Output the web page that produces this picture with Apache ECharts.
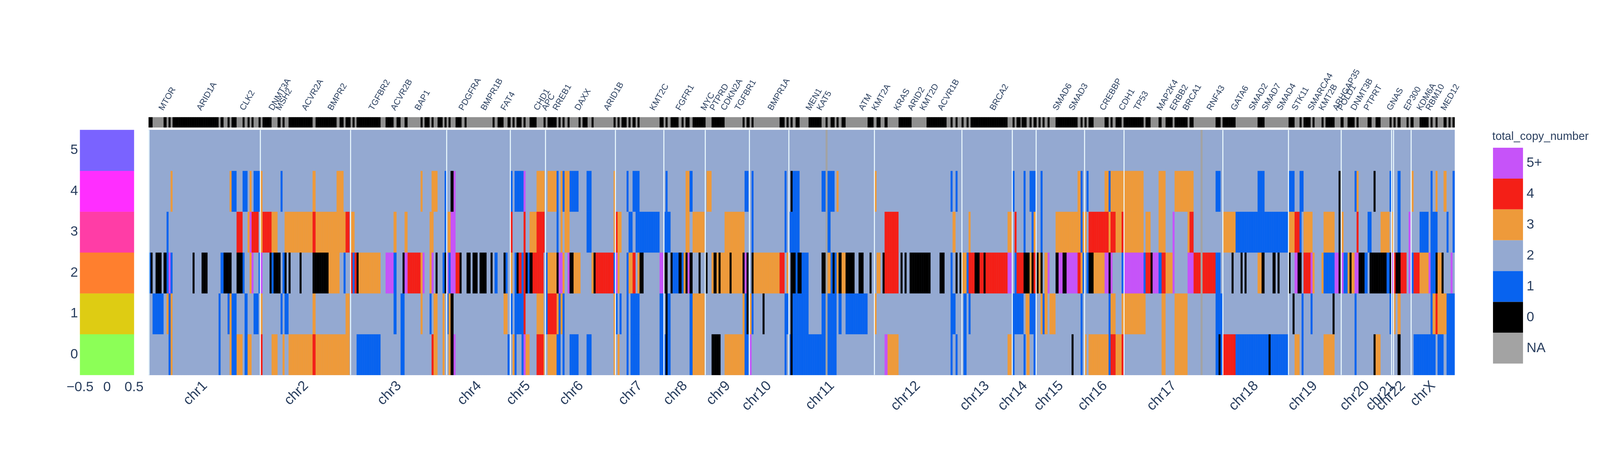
<!DOCTYPE html>
<html><head><meta charset="utf-8">
<style>html,body{margin:0;padding:0;background:#fff;overflow:hidden}#c{width:100vw;height:1200px}</style>
<script src="https://cdn.jsdelivr.net/npm/echarts@6/dist/echarts.min.js"></script>
</head><body><div id="c"></div>
<script>
const columnCount = 1306;
const panelRows = ['0','1','2','3','4','5'];
const panelColorValues = [0,1,2,3,4,5];
const chrNames = ['chr1','chr2','chr3','chr4','chr5','chr6','chr7','chr8','chr9','chr10','chr11','chr12','chr13','chr14','chr15','chr16','chr17','chr18','chr19','chr20','chr21','chr22','chrX'];
const chrTickCols = [56,157,250,330,379,432,491,536,579,620,683,769,838,876,912,956,1025,1107,1166,1218,1244,1254,1284];
const chrSeparators = [0.2,111.7,201.7,298.1,361.7,396.7,466.8,515.05,556.7,600.5,640,725.5,813.1,863.6,887.5,936,975.3,1074,1139.7,1192.3,1242.8,1244.7,1262.5];
const geneNames = ['MTOR','ARID1A','CLK2','DNMT3A','MSH2','ACVR2A','BMPR2','TGFBR2','ACVR2B','BAP1','PDGFRA','BMPR1B','FAT4','CHD1','APC','RREB1','DAXX','ARID1B','KMT2C','FGFR1','MYC','PTPRD','CDKN2A','TGFBR1','BMPR1A','MEN1','KAT5','ATM','KMT2A','KRAS','ARID2','KMT2D','ACVR1B','BRCA2','SMAD6','SMAD3','CREBBP','CDH1','TP53','MAP2K4','ERBB2','BRCA1','RNF43','GATA6','SMAD2','SMAD7','SMAD4','STK11','SMARCA4','KMT2B','ARHGAP35','POLD1','DNMT3B','PTPRT','GNAS','EP300','KDM6A','RBM10','MED12'];
const geneCols = [12,50,93,122,129,155,181,222,244,268,312,334,354,387,395,406,428,457,503,529,554,563,574,588,621,659,670,712,725,747,761,773,791,843,906,922,953,972,987,1010,1023,1036,1060,1084,1102,1115,1130,1145,1161,1172,1186,1191,1204,1217,1240,1257,1270,1279,1294];
const naCols = [677,678,1052,1053];
const stripBlackRuns = [[0,4],[15,18],[20,22],[24,70],[72,75],[79,81],[83,88],[94,96],[99,101],[103,105],[110,112],[114,123],[129,132],[134,136],[140,164],[167,188],[191,195],[197,202],[204,206],[208,232],[237,245],[248,252],[256,259],[272,274],[276,281],[283,285],[289,294],[296,298],[300,302],[307,313],[316,318],[344,346],[349,355],[359,362],[364,366],[368,373],[375,377],[381,388],[395,397],[399,408],[410,412],[414,416],[419,421],[430,432],[434,439],[443,445],[465,467],[469,471],[473,478],[480,482],[484,487],[489,491],[511,515],[517,519],[522,530],[533,535],[537,541],[544,557],[563,576],[594,596],[598,601],[603,605],[631,636],[638,640],[642,644],[647,651],[660,673],[677,679],[682,686],[688,690],[693,697],[719,725],[728,732],[736,739],[750,763],[778,798],[802,804],[807,809],[813,815],[818,820],[822,859],[864,866],[868,872],[873,878],[881,883],[885,888],[890,892],[894,896],[899,901],[907,929],[932,934],[936,938],[940,945],[956,960],[962,964],[967,973],[975,995],[997,1002],[1010,1013],[1017,1024],[1026,1039],[1041,1045],[1067,1072],[1074,1087],[1109,1116],[1140,1146],[1151,1153],[1155,1162],[1164,1166],[1173,1175],[1177,1186],[1192,1195],[1199,1206],[1208,1210],[1219,1223],[1227,1232],[1241,1243],[1245,1247],[1249,1252],[1258,1260],[1262,1265],[1271,1280],[1282,1284],[1287,1289],[1295,1298],[1300,1302],[1304,1306]];
const row5Runs = [];
const row4Runs = [[22,24,3],[81,83,3],[83,88,1],[94,99,1],[101,103,3],[105,112,1],[112,114,3],[132,134,1],[164,167,3],[188,195,3],
[272,274,3],[283,289,3],[296,298,1],[302,305,0],[305,307,5],[362,364,1],[366,375,1],[375,377,5],[388,396,3],[399,408,3],[408,410,1],[412,414,3],[414,416,1],[416,421,3],[421,430,1],[438,443,1],
[465,467,3],[478,480,1],[484,491,1],[517,519,1],[537,541,3],[541,544,1],[558,563,3],[596,600,1],[603,605,1],[636,638,1],[642,644,0],[644,651,1],
[673,677,1],[679,686,1],[688,690,3],[726,728,3],[802,804,1],[807,809,1],[864,866,1],[875,877,1],
[881,887,1],[892,894,1],[929,932,3],[932,934,1],[938,940,1],[956,960,3],[960,962,1],[962,995,3],[1010,1017,3],[1026,1045,3],[1067,1072,1],
[1109,1116,1],[1140,1146,1],[1151,1155,1],[1190,1192,0],[1206,1208,1],[1208,1210,3],[1225,1227,0],[1241,1243,1],[1249,1252,1],[1263,1265,3],[1282,1284,1],[1287,1289,3],[1295,1298,3],[1304,1306,1]];
const row3Runs = [[18,20,1],[88,94,4],[99,101,3],[101,103,5],[103,110,4],[112,114,3],[114,123,4],[123,129,3],[136,164,3],[164,167,4],[167,197,3],[197,201,4],[202,206,3],
[245,248,3],[256,259,3],[281,285,3],[296,298,1],[299,302,3],[302,307,5],[362,364,4],[375,377,4],[381,388,3],[388,396,4],[408,410,1],[412,414,3],[416,421,3],[438,443,1],
[465,467,3],[467,469,4],[469,473,3],[480,484,1],[487,511,1],[516,522,1],[537,541,3],[544,556,3],[576,596,3],[603,605,1],[636,638,1],[641,651,1],
[679,682,1],[736,750,4],[804,807,3],[820,822,3],[859,863,3],[866,868,4],[875,877,1],
[883,885,1],[885,887,3],[892,894,1],[907,932,3],[932,934,1],[934,938,3],[940,960,4],[960,962,3],[962,967,4],[967,973,3],[973,975,4],[975,995,3],[997,1002,3],[1010,1017,3],[1024,1026,5],[1039,1041,3],[1041,1045,4],[1074,1087,3],[1087,1098,1],
[1098,1140,1],[1140,1146,3],[1146,1151,4],[1151,1153,1],[1155,1164,3],[1175,1186,3],[1190,1192,0],[1193,1195,3],[1208,1210,4],[1219,1223,1],[1232,1241,3],[1243,1245,3],[1249,1252,1],[1260,1262,5],[1271,1280,1],[1282,1289,1],[1298,1300,1],[1304,1306,1]];
const row2Runs = [[0,2,1],[2,4,0],[7,13,0],[15,18,0],[18,20,1],[20,22,5],[22,24,1],[44,46,0],[53,59,0],[72,75,1],[75,83,0],[88,94,0],[94,96,1],[101,103,3],[103,105,5],[110,112,1],[112,114,5],[121,123,0],[123,125,1],[125,132,0],[134,136,1],[136,138,0],[140,142,0],[151,153,0],[164,180,0],[180,191,3],[195,197,1],[202,204,4],[204,206,1],[206,208,4],[208,210,0],[210,232,3],
[237,245,5],[245,248,1],[254,256,0],[256,259,5],[259,272,4],[272,274,3],[274,276,5],[281,283,3],[283,285,5],[287,289,0],[294,296,1],[296,298,0],[299,300,5],[300,302,1],[302,307,5],[307,311,4],[311,313,0],[318,322,0],[324,329,0],[331,338,0],[342,344,0],[346,349,1],[355,357,0],[357,359,1],[362,364,3],[366,368,1],[368,370,0],[370,373,4],[373,375,1],[375,377,4],[377,379,0],[379,381,1],[381,384,0],[384,395,4],[397,399,1],[399,408,3],[408,410,0],[410,414,5],[414,416,3],[419,421,5],[421,425,0],[425,432,3],
[443,445,3],[445,447,0],[447,465,4],[465,467,1],[467,469,5],[469,471,3],[478,480,1],[480,484,3],[484,487,4],[489,491,3],[491,495,0],[511,515,5],[516,519,0],[522,524,0],[524,530,1],[530,533,0],[533,535,1],[535,537,3],[537,539,0],[539,541,5],[541,544,0],[550,552,0],[557,559,0],[563,565,3],[565,568,0],[568,570,3],[570,572,0],[572,581,3],[581,583,0],[583,594,3],[594,596,0],[596,598,5],[598,600,0],[603,605,0],[605,631,3],[631,636,4],[638,640,3],[642,647,0],[647,649,1],[649,653,0],[653,660,1],
[673,677,0],[679,682,3],[682,684,1],[684,686,0],[686,688,1],[688,690,3],[690,693,0],[693,697,3],[697,706,0],[710,715,0],[721,723,0],[728,732,3],[734,736,0],[736,750,4],[752,754,0],[756,758,0],[761,782,0],[791,796,0],[802,804,1],[807,809,0],[811,813,0],[814,818,3],[818,820,1],[820,826,4],[826,831,0],[831,835,4],[835,837,0],[837,859,4],[859,863,5],[866,868,1],[868,875,4],[875,881,0],
[881,883,3],[883,885,0],[885,887,4],[888,890,0],[890,892,3],[892,894,0],[896,899,3],[899,901,5],[907,910,0],[910,914,5],[914,918,0],[918,929,5],[929,932,4],[932,934,3],[934,936,1],[938,940,1],[940,945,0],[945,956,3],[956,960,5],[960,962,0],[962,964,5],[973,975,1],[976,995,5],[995,997,1],[997,1002,4],[1002,1004,0],[1004,1010,5],[1010,1013,1],[1013,1017,4],[1017,1024,3],[1024,1026,5],[1039,1045,5],[1045,1052,4],[1054,1067,4],[1067,1072,1],[1083,1085,0],[1092,1094,0],[1096,1098,0],
[1109,1113,3],[1113,1116,0],[1124,1127,0],[1129,1131,0],[1140,1142,0],[1146,1149,5],[1149,1153,0],[1155,1162,4],[1162,1164,5],[1164,1166,3],[1173,1175,3],[1175,1186,1],[1186,1190,5],[1190,1192,0],[1193,1195,5],[1195,1199,1],[1199,1201,3],[1201,1203,0],[1203,1206,3],[1206,1210,5],[1210,1216,0],[1216,1219,1],[1221,1238,0],[1238,1241,1],[1241,1243,0],[1243,1245,5],[1245,1247,4],[1247,1252,0],[1252,1258,4],[1260,1262,5],[1263,1265,1],[1265,1271,4],[1271,1280,3],[1280,1282,5],[1282,1287,1],[1287,1289,0],[1289,1293,3],[1293,1295,0],[1302,1304,5]];
const row1Runs = [[4,15,1],[18,20,3],[20,22,1],[22,24,3],[70,72,1],[79,81,1],[81,83,3],[83,88,1],[96,99,1],[105,110,1],[112,114,3],[132,134,1],[136,140,1],[164,167,3],[197,201,3],
[245,248,1],[252,256,1],[272,274,3],[281,283,1],[285,289,3],[294,296,3],[299,300,1],[300,302,3],[302,305,0],[355,359,3],[362,364,1],[366,375,1],[375,377,4],[388,395,3],[397,399,1],[399,408,4],[408,410,3],[410,412,1],[412,414,3],[414,416,1],
[465,467,3],[467,469,1],[471,473,1],[478,480,1],[482,491,1],[511,515,1],[517,519,0],[519,522,1],[541,544,1],[544,556,3],[594,596,3],[596,598,1],[598,600,0],[601,603,3],[603,605,1],[614,616,0],[636,640,1],[642,644,0],[644,658,1],
[658,660,1],[673,677,1],[679,688,1],[690,693,1],[697,719,1],[726,728,3],[802,807,1],[815,818,1],[820,822,1],[864,875,1],[877,881,3],
[881,887,1],[892,894,3],[894,896,1],[896,899,3],[901,907,3],[932,934,1],[960,962,1],[962,967,3],[973,997,3],[1013,1017,3],[1026,1039,3],[1067,1074,1],
[1144,1146,0],[1153,1155,1],[1162,1164,1],[1184,1186,0],[1206,1208,1],[1241,1243,1],[1245,1247,3],[1249,1252,3],[1282,1284,1],[1284,1287,3],[1287,1289,4],[1289,1298,3],[1298,1306,1]];
const row0Runs = [[20,22,1],[22,24,3],[70,72,1],[81,83,3],[83,88,1],[88,94,3],[96,99,1],[99,103,3],[112,114,4],[123,129,3],[134,136,3],[140,164,3],[164,167,4],[167,201,3],[208,232,1],
[252,256,1],[283,285,4],[285,289,3],[294,296,3],[300,302,3],[302,305,0],[305,307,5],[359,361,1],[364,366,3],[366,368,1],[373,375,1],[375,377,5],[377,381,3],[388,395,4],[395,396,3],[399,408,3],[408,412,1],[414,416,1],[421,430,1],[438,443,1],
[465,467,3],[469,471,3],[478,480,1],[482,491,1],[511,515,1],[516,517,1],[517,519,0],[519,522,1],[541,544,1],[544,556,3],[563,572,0],[576,596,3],[596,600,1],[601,603,5],[636,638,1],[641,642,1],[642,644,0],[644,658,1],
[658,677,1],[679,688,1],[736,739,5],[739,750,3],[802,804,1],[807,809,1],[815,818,1],[859,863,3],[864,866,1],[875,877,1],[878,881,3],
[885,887,1],[923,925,0],[932,934,1],[936,938,3],[940,960,3],[960,962,1],[962,967,4],[967,973,3],[973,975,4],[1013,1017,3],[1026,1039,3],[1067,1070,1],[1070,1072,0],[1072,1074,1],[1074,1087,4],[1087,1098,1],
[1098,1120,1],[1120,1122,0],[1122,1140,1],[1146,1151,3],[1153,1155,1],[1175,1186,3],[1206,1208,1],[1225,1227,0],[1227,1232,3],[1249,1252,0],[1265,1287,1],[1289,1295,1],[1298,1306,1]];
const copyRows = [row0Runs,row1Runs,row2Runs,row3Runs,row4Runs,row5Runs];

const ink = '#2a3f5f';
const font = '"Liberation Sans", Arial, sans-serif';
const S = window.innerWidth / 4800;
const cols = Array.from({length: columnCount}, (_, i) => i);
const chrAxisData = cols.map(i => { const k = chrTickCols.indexOf(i); return k >= 0 ? chrNames[k] : ''; });
const geneAxisData = cols.map(i => { const k = geneCols.indexOf(i); return k >= 0 ? geneNames[k] : ''; });
const showNamed = (idx, val) => val !== '';

const mainData = [];
copyRows.forEach((runs, r) => {
  const line = new Array(columnCount).fill(2);
  runs.forEach(([s, e, v]) => { for (let c = s; c < e; c++) line[c] = v; });
  naCols.forEach(c => { line[c] = -1; });
  line.forEach((v, c) => mainData.push([c, r, v]));
});
const stripLine = new Array(columnCount).fill(1);
stripBlackRuns.forEach(([s, e]) => { for (let c = s; c < e; c++) stripLine[c] = 0; });
const stripData = stripLine.map((v, c) => [c, 0, v]);
const panelData = panelColorValues.map((v, r) => [0, r, v]);

const chart = echarts.init(document.getElementById('c'));
const hm = (name, xi, yi, data) => ({name, type:'heatmap', xAxisIndex:xi, yAxisIndex:yi, data, progressive:0, animation:false, silent:true, emphasis:{disabled:true}, label:{show:false}, itemStyle:{borderWidth:0}});
chart.setOption({
  animation:false,
  backgroundColor:'#ffffff',
  textStyle:{fontFamily:font},
  title:{text:'total_copy_number', left:4477*S, top:335, textStyle:{fontFamily:font, fontSize:29, fontWeight:'normal', color:ink}, padding:0},
  grid:[
    {left:240*S, top:332.5, width:162*S, height:627},
    {left:446*S, top:300, width:3918*S, height:26, show:true, backgroundColor:'#909090', borderWidth:0},
    {left:446*S, top:332.5, width:3918*S, height:627, show:true, backgroundColor:'#94A9D1', borderWidth:0}
  ],
  xAxis:[
    {gridIndex:0, type:'category', data:['0'], show:false},
    {gridIndex:1, type:'category', data:geneAxisData, position:'top',
      axisLine:{show:false}, axisTick:{show:false}, splitLine:{show:false},
      axisLabel:{show:true, interval:showNamed, rotate:-60, margin:19, fontSize:22, color:ink, fontFamily:font, hideOverlap:false}},
    {gridIndex:2, type:'category', data:chrAxisData, position:'bottom',
      axisLine:{show:false}, axisTick:{show:false}, splitLine:{show:false},
      axisLabel:{show:true, interval:showNamed, rotate:45, margin:22, fontSize:36, color:ink, fontFamily:font, hideOverlap:false}},
    {gridIndex:2, type:'value', min:0, max:columnCount, show:false},
    {gridIndex:0, type:'value', min:-0.5, max:0.5, interval:0.5, position:'bottom',
      axisLine:{show:false}, axisTick:{show:false}, splitLine:{show:false},
      axisLabel:{margin:14, fontSize:35, color:ink, fontFamily:font, showMinLabel:true, showMaxLabel:true,
        formatter:v => String(v).replace('-', '\u2212')}}
  ],
  yAxis:[
    {gridIndex:0, type:'category', data:panelRows, axisLine:{show:false}, axisTick:{show:false}, splitLine:{show:false},
      axisLabel:{margin:5, fontSize:35, color:ink, fontFamily:font}},
    {gridIndex:1, type:'category', data:['strip'], show:false},
    {gridIndex:2, type:'category', data:panelRows, show:false}
  ],
  visualMap:[
    {type:'piecewise', seriesIndex:2, left:4479*S, top:378, orient:'vertical', itemWidth:90*S, itemHeight:78.9, itemGap:0, itemSymbol:'rect', selectedMode:false, hoverLink:false, textGap:9,
      textStyle:{fontSize:35, color:ink, fontFamily:font}, padding:0, align:'left',
      pieces:[{value:5,label:'5+',color:'#C653F9'},{value:4,label:'4',color:'#F41F17'},{value:3,label:'3',color:'#EE9A3A'},{value:2,label:'2',color:'#94A9D1'},{value:1,label:'1',color:'#0863EF'},{value:0,label:'0',color:'#000000'},{value:-1,label:'NA',color:'#A3A3A3'}]},
    {type:'piecewise', seriesIndex:0, show:false, pieces:[{value:0,color:'#8CFF57'},{value:1,color:'#DECC13'},{value:2,color:'#FF7F2E'},{value:3,color:'#FF3DA6'},{value:4,color:'#FF2EFF'},{value:5,color:'#7A63FF'}]},
    {type:'piecewise', seriesIndex:1, show:false, pieces:[{value:0,color:'#000000'},{value:1,color:'#909090'}]}
  ],
  series:[
    hm('panel',0,0,panelData),
    hm('strip',1,1,stripData),
    hm('total_copy_number',2,2,mainData),
    {name:'separators', type:'line', xAxisIndex:3, yAxisIndex:2, data:[], silent:true, animation:false, z:5,
      markLine:{silent:true, animation:false, symbol:'none', label:{show:false}, lineStyle:{color:'#eefcff', width:3*S, type:'solid', opacity:1},
        data:chrSeparators.map(v => ({xAxis:v}))}}
  ]
});
</script></body></html>
